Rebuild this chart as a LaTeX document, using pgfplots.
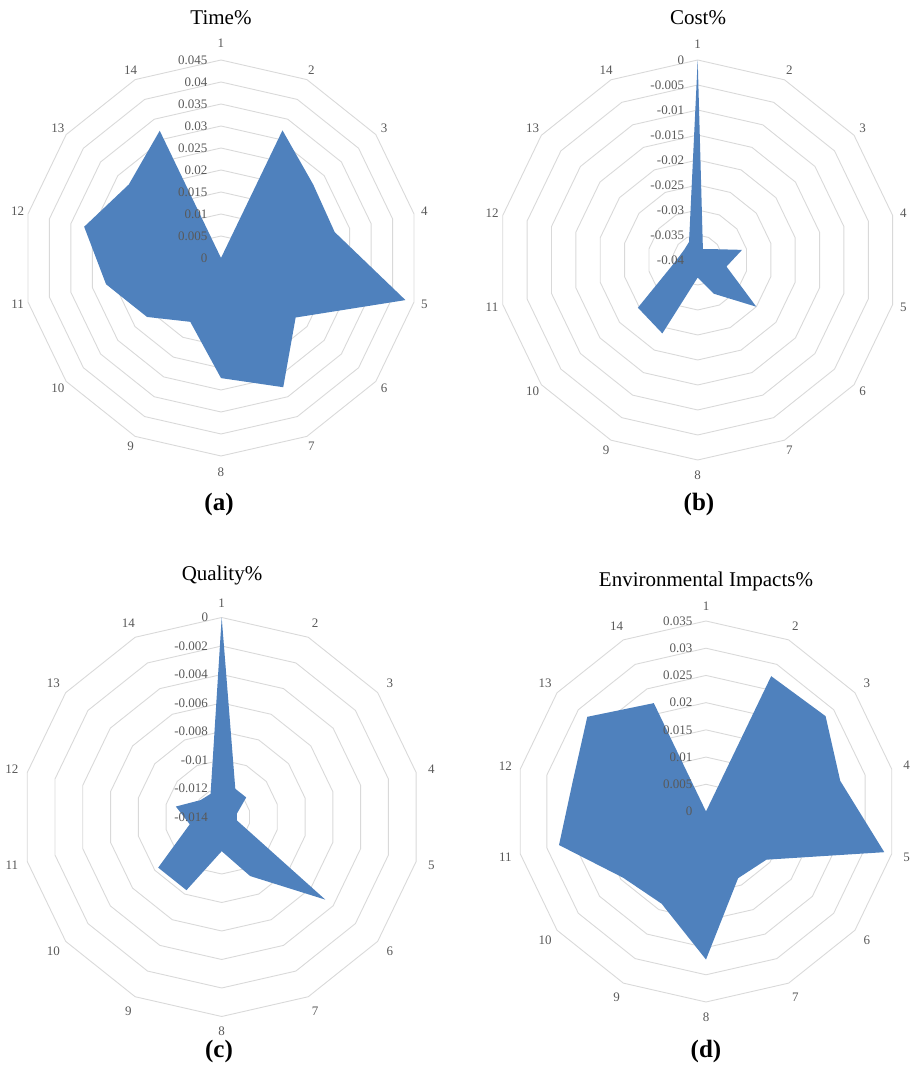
\documentclass[border=0pt]{standalone}
\usepackage{fontspec}
\setmainfont{Liberation Serif}
\usepackage{pgfplots}
\pgfplotsset{compat=1.18}
\usepgfplotslibrary{polar}
\usepackage{pgfplotstable}

\definecolor{radarfill}{RGB}{79,129,189}
\definecolor{gridc}{RGB}{217,217,217}
\definecolor{labc}{RGB}{89,89,89}

% k = spoke (1..14, 15 closes the polygon), v = value
\pgfplotstableread{
k v
1 0
2 0.0322
3 0.0268
4 0.0265
5 0.0430
6 0.0217
7 0.0326
8 0.0273
9 0.0161
10 0.0215
11 0.0268
12 0.0319
13 0.0268
14 0.0321
15 0
}\timetab

\pgfplotstableread{
k v
1 0
2 -0.0376
3 -0.0365
4 -0.0309
5 -0.0341
6 -0.0250
7 -0.0325
8 -0.0365
9 -0.0237
10 -0.0247
11 -0.0347
12 -0.0363
13 -0.0366
14 -0.0360
15 0
}\costtab

\pgfplotstableread{
k v
1 0
2 -0.0118
3 -0.0118
4 -0.0129
5 -0.0129
6 -0.0047
7 -0.0094
8 -0.0116
9 -0.0083
10 -0.0083
11 -0.0117
12 -0.0107
13 -0.0121
14 -0.0122
15 0
}\qualtab

\pgfplotstableread{
k v
1 0
2 0.0276
3 0.0281
4 0.0253
5 0.0336
6 0.0142
7 0.0136
8 0.0272
9 0.0188
10 0.0195
11 0.0277
12 0.0251
13 0.0279
14 0.0221
15 0
}\envtab

\tikzset{
  catlab/.style={text=labc, font=\fontsize{13}{13}\selectfont, anchor=center, inner sep=0pt},
  ticklab/.style={text=labc, font=\fontsize{13}{13}\selectfont, anchor=east, inner sep=0pt, xshift=-13.5pt},
}
\pgfplotsset{
  radar/.style={
    scale only axis, width=#1, height=#1,
    ymin=0, hide axis, clip=false, anchor=center,
  },
  ring/.style={draw=gridc, line width=0.9pt, no markers, domain=-270:90, samples=15},
}
% #1 = radius of labels 1 and 8, #2 = radius of the other labels
\newcommand\catlabels[2]{%
  \node[catlab] at (axis cs:90,#1) {1};
  \node[catlab] at (axis cs:64.2857,#2) {2};
  \node[catlab] at (axis cs:38.5714,#2) {3};
  \node[catlab] at (axis cs:12.8571,#2) {4};
  \node[catlab] at (axis cs:-12.8571,#2) {5};
  \node[catlab] at (axis cs:-38.5714,#2) {6};
  \node[catlab] at (axis cs:-64.2857,#2) {7};
  \node[catlab] at (axis cs:-90,#1) {8};
  \node[catlab] at (axis cs:-115.7143,#2) {9};
  \node[catlab] at (axis cs:-141.4286,#2) {10};
  \node[catlab] at (axis cs:-167.1429,#2) {11};
  \node[catlab] at (axis cs:-192.8571,#2) {12};
  \node[catlab] at (axis cs:-218.5714,#2) {13};
  \node[catlab] at (axis cs:-244.2857,#2) {14};
}
\newcommand\ticklab[2]{\node[ticklab] at (axis cs:90,#1) {#2};}

\begin{document}
\begin{tikzpicture}
\path[use as bounding box] (0,0) rectangle (913pt,1073pt);

% (a) Time%
\begin{polaraxis}[radar=396pt, at={(221pt,815pt)}, ymax=0.045]
  \pgfplotsinvokeforeach{0.005,0.01,0.015,0.02,0.025,0.03,0.035,0.04,0.045}{\addplot[ring] {#1};}
  \addplot[fill=radarfill, draw=none] table[x expr={90-(\thisrow{k}-1)*360/14}, y=v] {\timetab};
  \ticklab{0}{0}\ticklab{0.005}{0.005}\ticklab{0.01}{0.01}\ticklab{0.015}{0.015}
  \ticklab{0.02}{0.02}\ticklab{0.025}{0.025}\ticklab{0.03}{0.03}\ticklab{0.035}{0.035}
  \ticklab{0.04}{0.04}\ticklab{0.045}{0.045}
  \catlabels{0.0488}{0.0474}
\end{polaraxis}

% (b) Cost%
\begin{polaraxis}[radar=400pt, at={(697.7pt,813pt)}, ymax=0.04]
  \pgfplotsinvokeforeach{0.005,0.01,0.015,0.02,0.025,0.03,0.035,0.04}{\addplot[ring] {#1};}
  \addplot[fill=radarfill, draw=none] table[x expr={90-(\thisrow{k}-1)*360/14}, y expr={\thisrow{v}+0.04}] {\costtab};
  \ticklab{0.04}{0}\ticklab{0.035}{-0.005}\ticklab{0.03}{-0.01}\ticklab{0.025}{-0.015}
  \ticklab{0.02}{-0.02}\ticklab{0.015}{-0.025}\ticklab{0.01}{-0.03}\ticklab{0.005}{-0.035}
  \ticklab{0}{-0.04}
  \catlabels{0.0431}{0.0422}
\end{polaraxis}

% (c) Quality%
\begin{polaraxis}[radar=399pt, at={(221.7pt,256pt)}, ymax=0.014]
  \pgfplotsinvokeforeach{0.002,0.004,0.006,0.008,0.01,0.012,0.014}{\addplot[ring] {#1};}
  \addplot[fill=radarfill, draw=none] table[x expr={90-(\thisrow{k}-1)*360/14}, y expr={\thisrow{v}+0.014}] {\qualtab};
  \ticklab{0.014}{0}\ticklab{0.012}{-0.002}\ticklab{0.01}{-0.004}\ticklab{0.008}{-0.006}
  \ticklab{0.006}{-0.008}\ticklab{0.004}{-0.01}\ticklab{0.002}{-0.012}\ticklab{0}{-0.014}
  \catlabels{0.0150}{0.0151}
\end{polaraxis}

% (d) Environmental Impacts%
\begin{polaraxis}[radar=381pt, at={(706pt,261.5pt)}, ymax=0.035]
  \pgfplotsinvokeforeach{0.005,0.01,0.015,0.02,0.025,0.03,0.035}{\addplot[ring] {#1};}
  \addplot[fill=radarfill, draw=none] table[x expr={90-(\thisrow{k}-1)*360/14}, y=v] {\envtab};
  \ticklab{0}{0}\ticklab{0.005}{0.005}\ticklab{0.01}{0.01}\ticklab{0.015}{0.015}
  \ticklab{0.02}{0.02}\ticklab{0.025}{0.025}\ticklab{0.03}{0.03}\ticklab{0.035}{0.035}
  \catlabels{0.0378}{0.0378}
\end{polaraxis}

% titles and panel letters
\node[anchor=base, font=\fontsize{21}{21}\selectfont] at (221pt,1048pt) {Time\%};
\node[anchor=base, font=\fontsize{21}{21}\selectfont] at (698pt,1048pt) {Cost\%};
\node[anchor=base, font=\fontsize{21}{21}\selectfont] at (222pt,492pt) {Quality\%};
\node[anchor=base, font=\fontsize{21}{21}\selectfont] at (706pt,486pt) {Environmental Impacts\%};
\node[anchor=base, font=\fontsize{25}{25}\selectfont\bfseries] at (219pt,562pt) {(a)};
\node[anchor=base, font=\fontsize{25}{25}\selectfont\bfseries] at (699pt,562pt) {(b)};
\node[anchor=base, font=\fontsize{25}{25}\selectfont\bfseries] at (219pt,16pt) {(c)};
\node[anchor=base, font=\fontsize{25}{25}\selectfont\bfseries] at (706pt,16pt) {(d)};
\end{tikzpicture}
\end{document}
